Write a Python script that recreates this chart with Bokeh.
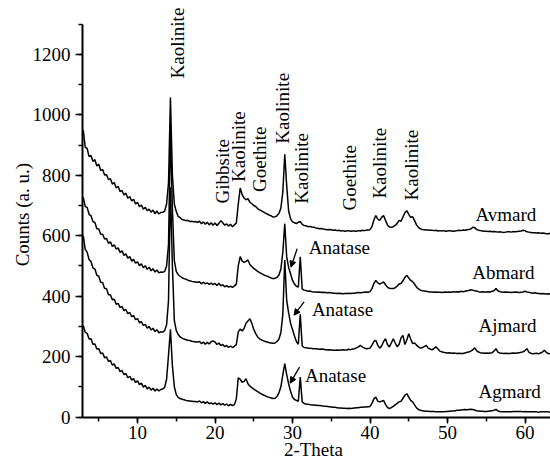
import numpy as np
from bokeh.plotting import figure
from bokeh.models import (Range1d, SingleIntervalTicker, Label, LabelSet, Arrow,
                          NormalHead, ColumnDataSource)
from bokeh.core.properties import value
from bokeh.embed import file_html
from bokeh.resources import INLINE

FONT = "'Liberation Serif', 'Times New Roman', 'DejaVu Serif', serif"

# 2-theta measurement grid (0.25 deg step)
two_theta = np.round(np.arange(3.0, 63.51, 0.25), 2)

avmard = [
    950, 893, 889, 862, 866, 846, 852, 831, 837, 816, 819, 801, 802, 786, 789, 771, 776, 758, 764, 746,
    750, 735, 741, 724, 730, 715, 721, 705, 711, 696, 702, 688, 694, 683, 688, 678, 685, 673, 682, 672,
    677, 678, 681, 705, 775, 1058, 800, 705, 680, 664, 660, 654, 652, 650, 651, 647, 648, 646, 647, 644,
    648, 640, 646, 638, 645, 636, 643, 635, 642, 634, 641, 650, 643, 635, 639, 632, 638, 630, 636, 642,
    705, 758, 736, 725, 719, 723, 711, 706, 700, 697, 690, 686, 682, 679, 675, 672, 668, 666, 662, 663,
    666, 674, 692, 745, 870, 765, 682, 656, 646, 643, 640, 645, 647, 638, 634, 633, 630, 631, 629, 628,
    626, 625, 623, 624, 622, 621, 620, 621, 620, 618, 619, 617, 618, 616, 617, 615, 616, 617, 615, 616,
    616, 615, 617, 616, 618, 617, 618, 619, 620, 630, 652, 667, 655, 651, 661, 667, 651, 636, 629, 628,
    630, 634, 641, 651, 648, 662, 676, 683, 671, 661, 663, 650, 636, 628, 623, 621, 620, 619, 619, 618,
    618, 617, 618, 616, 617, 616, 617, 615, 616, 617, 616, 615, 616, 617, 618, 617, 619, 618, 620, 621,
    622, 628, 627, 621, 618, 617, 616, 615, 615, 614, 615, 613, 614, 613, 612, 613, 612, 611, 612, 613,
    613, 612, 614, 613, 614, 615, 616, 618, 617, 613, 612, 611, 610, 610, 609, 610, 608, 609, 608, 607,
    607, 608, 607,
]

abmard = [
    727, 697, 694, 671, 666, 647, 644, 623, 622, 605, 605, 589, 591, 575, 580, 565, 570, 556, 560, 545,
    550, 535, 540, 526, 531, 516, 522, 509, 514, 501, 507, 494, 501, 489, 496, 484, 491, 480, 487, 477,
    480, 479, 482, 500, 570, 950, 690, 518, 482, 471, 466, 461, 458, 456, 453, 451, 449, 448, 447, 446,
    448, 441, 446, 441, 444, 439, 443, 438, 442, 435, 443, 434, 438, 431, 435, 430, 433, 429, 434, 440,
    500, 531, 516, 512, 515, 520, 505, 498, 492, 487, 482, 478, 475, 471, 468, 466, 463, 460, 458, 459,
    462, 470, 490, 545, 640, 530, 495, 474, 452, 440, 433, 430, 530, 424, 420, 419, 416, 417, 415, 414,
    414, 413, 414, 412, 413, 412, 411, 412, 411, 410, 410, 409, 410, 409, 408, 409, 409, 410, 409, 410,
    410, 411, 412, 411, 412, 413, 414, 413, 415, 425, 442, 452, 444, 440, 443, 447, 438, 430, 426, 425,
    425, 428, 433, 440, 442, 451, 462, 469, 460, 452, 448, 440, 430, 424, 420, 418, 417, 416, 415, 414,
    414, 413, 414, 413, 413, 412, 413, 414, 413, 414, 413, 415, 414, 415, 414, 416, 415, 416, 418, 419,
    421, 420, 418, 417, 415, 414, 415, 414, 414, 415, 414, 416, 418, 425, 418, 415, 414, 413, 414, 413,
    413, 412, 413, 414, 413, 412, 413, 414, 416, 414, 413, 411, 410, 411, 410, 409, 408, 409, 408, 407,
    408, 407, 407,
]

ajmard = [
    600, 555, 546, 521, 515, 493, 490, 469, 466, 446, 445, 425, 425, 405, 405, 388, 390, 373, 376, 362,
    366, 352, 356, 342, 346, 332, 336, 322, 326, 312, 316, 303, 307, 294, 300, 288, 294, 283, 289, 279,
    282, 281, 286, 305, 385, 760, 500, 320, 286, 273, 265, 261, 258, 256, 254, 253, 251, 250, 248, 248,
    250, 243, 248, 241, 247, 242, 249, 252, 248, 240, 245, 237, 240, 233, 237, 230, 235, 230, 234, 240,
    282, 291, 285, 293, 310, 318, 325, 310, 290, 276, 265, 259, 255, 252, 250, 248, 246, 245, 244, 245,
    250, 258, 280, 340, 520, 385, 345, 310, 290, 268, 250, 241, 340, 235, 230, 229, 228, 228, 227, 226,
    226, 225, 224, 225, 224, 223, 222, 223, 222, 221, 221, 222, 221, 222, 223, 222, 222, 224, 223, 225,
    226, 229, 232, 237, 232, 229, 226, 227, 228, 238, 250, 254, 238, 228, 235, 250, 259, 240, 232, 245,
    259, 245, 233, 240, 262, 270, 240, 255, 276, 258, 243, 245, 238, 232, 228, 230, 233, 237, 228, 225,
    222, 227, 232, 226, 218, 216, 214, 213, 212, 213, 211, 212, 211, 210, 211, 210, 210, 212, 214, 215,
    218, 222, 229, 220, 215, 213, 212, 211, 212, 211, 212, 213, 218, 226, 215, 212, 211, 210, 211, 210,
    210, 211, 212, 211, 212, 213, 214, 216, 220, 226, 215, 211, 209, 210, 211, 209, 212, 215, 221, 214,
    210, 209, 208,
]

agmard = [
    303, 280, 277, 258, 259, 241, 242, 225, 226, 210, 212, 196, 199, 184, 187, 172, 176, 161, 164, 150,
    154, 140, 144, 130, 135, 122, 127, 114, 120, 107, 112, 99, 105, 93, 99, 89, 95, 86, 93, 86,
    91, 93, 98, 125, 205, 290, 170, 100, 74, 65, 61, 59, 57, 55, 54, 53, 52, 51, 51, 50,
    53, 47, 51, 45, 50, 44, 47, 43, 47, 41, 46, 40, 44, 39, 43, 37, 42, 38, 41, 60,
    130, 125, 115, 118, 127, 110, 102, 97, 92, 88, 84, 80, 76, 73, 70, 67, 65, 63, 61, 62,
    68, 80, 100, 140, 177, 140, 110, 85, 66, 58, 55, 52, 132, 50, 45, 43, 42, 41, 40, 40,
    39, 38, 38, 37, 36, 36, 35, 34, 33, 32, 32, 31, 30, 30, 29, 29, 28, 29, 28, 29,
    30, 31, 31, 32, 32, 33, 33, 34, 35, 45, 60, 66, 52, 50, 52, 55, 42, 32, 28, 31,
    35, 40, 45, 50, 52, 62, 72, 77, 66, 55, 50, 40, 30, 25, 22, 21, 20, 19, 19, 18,
    18, 18, 17, 17, 17, 17, 17, 18, 18, 19, 20, 20, 21, 22, 22, 23, 24, 25, 24, 25,
    26, 25, 23, 21, 20, 19, 19, 18, 18, 19, 20, 21, 22, 25, 20, 18, 17, 17, 17, 17,
    17, 17, 18, 18, 18, 18, 18, 17, 18, 17, 17, 17, 17, 17, 17, 16, 17, 17, 17, 17,
    17, 16, 17,
]

# Phase labels above the peaks (vertical text, start point = lower end)
peak_text = ["Kaolinite", "Gibbsite", "Kaolinite", "Goethite", "Kaolinite",
             "Kaolinite", "Goethite", "Kaolinite", "Kaolinite"]
peak_x = [15.1, 21.03, 23.07, 25.74, 28.77, 31.14, 37.35, 41.23, 45.33]
peak_y = [1121, 707, 778, 745, 905, 706, 684, 723, 717]

# Sample names (left edge, baseline)
sample_text = ["Avmard", "Abmard", "Ajmard", "Agmard"]
sample_x = [53.6, 53.2, 54.0, 54.0]
sample_y = [650, 457, 283, 64]

# Anatase annotations (left edge, baseline)
anatase_text = ["Anatase", "Anatase", "Anatase"]
anatase_x = [32.1, 32.5, 31.6]
anatase_y = [538, 333, 115]
arrow_x0 = [30.6, 31.5, 30.9]
arrow_y0 = [557, 381, 165]
arrow_x1 = [29.8, 30.2, 29.7]
arrow_y1 = [496, 337, 112]

x_axis_title = "2-Theta"
y_axis_title = "Counts (a. u.)"
y_ticks_interval = 200
x_ticks_interval = 10
x_axis_span = (2.9, 63.29)
y_axis_span = (0, 1300)

p = figure(width=550, height=461, output_backend="svg", toolbar_location=None,
           x_range=Range1d(-7.68, 63.29), y_range=Range1d(-147.3, 1378.8),
           min_border_left=0, min_border_right=0, min_border_top=0, min_border_bottom=0)
p.outline_line_color = None
p.xgrid.visible = False
p.ygrid.visible = False
p.background_fill_color = "white"
p.border_fill_color = "white"

for ys in (avmard, abmard, ajmard, agmard):
    p.line(two_theta, ys, line_color="black", line_width=1.5)

p.xaxis.ticker = SingleIntervalTicker(interval=x_ticks_interval, num_minor_ticks=2)
p.yaxis.ticker = SingleIntervalTicker(interval=y_ticks_interval, num_minor_ticks=2)
p.xaxis.fixed_location = 0
p.yaxis.fixed_location = x_axis_span[0]
p.xaxis.bounds = x_axis_span
p.yaxis.bounds = y_axis_span
for ax in (p.xaxis[0], p.yaxis[0]):
    ax.axis_line_width = 2
    ax.axis_line_color = "black"
    ax.major_tick_line_color = "black"
    ax.minor_tick_line_color = "black"
    ax.major_tick_line_width = 1.5
    ax.minor_tick_line_width = 1.5
    ax.major_tick_in = 0
    ax.minor_tick_in = 0
    ax.major_label_text_font = FONT
    ax.major_label_text_font_size = "19px"
    ax.major_label_text_color = "black"
p.yaxis.major_tick_out = 7
p.yaxis.minor_tick_out = 4
p.yaxis.major_label_standoff = 5
p.xaxis.major_tick_out = 6
p.xaxis.minor_tick_out = 4
p.xaxis.major_label_standoff = 3

p.add_layout(Label(x=-4.88, y=670, text=y_axis_title, angle=np.pi / 2, text_align="center",
                   text_baseline="middle", text_font=FONT, text_font_size="19px",
                   text_color="black"))
p.add_layout(Label(x=32.7, y=-106, text=x_axis_title, text_align="center",
                   text_baseline="alphabetic", text_font=FONT, text_font_size="19px",
                   text_color="black"))

peak_src = ColumnDataSource(dict(x=peak_x, y=peak_y, text=peak_text))
p.add_layout(LabelSet(x="x", y="y", text="text", source=peak_src, angle=np.pi / 2,
                      text_align="left", text_baseline="middle", text_font=value(FONT),
                      text_font_size=value("19px"), text_color="black"))

sample_src = ColumnDataSource(dict(x=sample_x, y=sample_y, text=sample_text))
p.add_layout(LabelSet(x="x", y="y", text="text", source=sample_src,
                      text_align="left", text_baseline="alphabetic", text_font=value(FONT),
                      text_font_size=value("19px"), text_color="black"))

anatase_src = ColumnDataSource(dict(x=anatase_x, y=anatase_y, text=anatase_text))
p.add_layout(LabelSet(x="x", y="y", text="text", source=anatase_src,
                      text_align="left", text_baseline="alphabetic", text_font=value(FONT),
                      text_font_size=value("19px"), text_color="black"))

for xs, ys, xe, ye in zip(arrow_x0, arrow_y0, arrow_x1, arrow_y1):
    p.add_layout(Arrow(x_start=xs, y_start=ys, x_end=xe, y_end=ye, line_width=1.3,
                       line_color="black",
                       end=NormalHead(size=6, fill_color="black", line_color="black")))

open("out.html", "w").write(file_html(p, INLINE))
